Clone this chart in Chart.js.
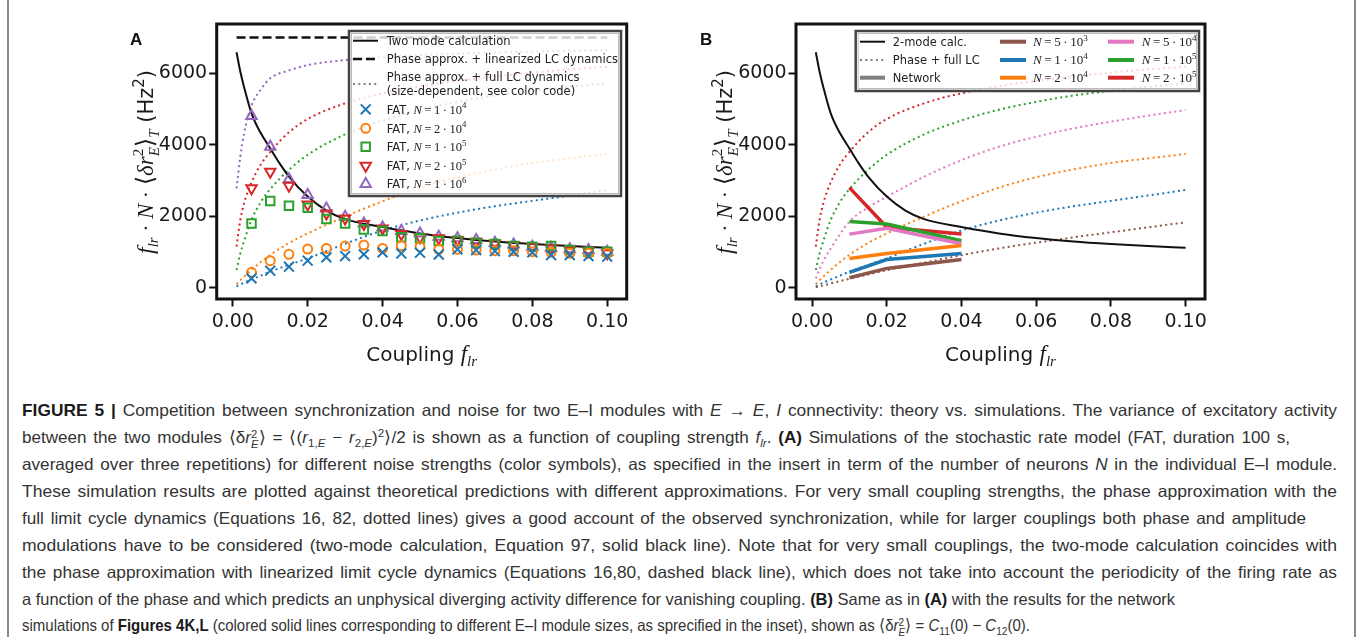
<!DOCTYPE html>
<html>
<head>
<meta charset="utf-8">
<script src="https://cdn.jsdelivr.net/npm/chart.js@4.4.1/dist/chart.umd.min.js"></script>
<style>
html, body { margin: 0; padding: 0; background: #fff; }
#page { position: relative; width: 1360px; height: 637px; overflow: hidden; background: #fff; }
#page canvas { position: absolute; left: 0; top: 0; }
.frame { position: absolute; top: 0; width: 2px; height: 637px; background: #8a8a8a; }
#caption { position: absolute; left: 0; top: 0; font-family: "Liberation Sans", Arial, sans-serif; font-size: 16.5px; color: #333; }
.ln { position: absolute; left: 22px; white-space: nowrap; line-height: 20px; transform-origin: 0 0; }
.ln b { color: #1a1a1a; }
.ss { display: inline-block; vertical-align: -0.45em; font-size: 66%; line-height: 0.95; }
sub, sup { font-size: 68%; line-height: 0; }
</style>
</head>
<body>
<div id="page">
  <canvas id="chartA" width="1360" height="380"></canvas>
  <canvas id="chartB" width="1360" height="380"></canvas>
  <div class="frame" style="left:7px"></div>
  <div class="frame" style="left:1354px"></div>
  <div id="caption">
    <div class="ln"><b>FIGURE 5 |</b> Competition between synchronization and noise for two E–I modules with <i>E</i> → <i>E</i>, <i>I</i> connectivity: theory vs. simulations. The variance of excitatory activity</div>
    <div class="ln">between the two modules ⟨δ<i>r</i><span class="ss">2<br><i>E</i></span>⟩ = ⟨(<i>r</i><sub>1,<i>E</i></sub> − <i>r</i><sub>2,<i>E</i></sub>)<sup>2</sup>⟩/2 is shown as a function of coupling strength <i>f</i><sub><i>lr</i></sub>. <b>(A)</b> Simulations of the stochastic rate model (FAT, duration 100 s,</div>
    <div class="ln">averaged over three repetitions) for different noise strengths (color symbols), as specified in the insert in term of the number of neurons <i>N</i> in the individual E–I module.</div>
    <div class="ln">These simulation results are plotted against theoretical predictions with different approximations. For very small coupling strengths, the phase approximation with the</div>
    <div class="ln">full limit cycle dynamics (Equations 16, 82, dotted lines) gives a good account of the observed synchronization, while for larger couplings both phase and amplitude</div>
    <div class="ln">modulations have to be considered (two-mode calculation, Equation 97, solid black line). Note that for very small couplings, the two-mode calculation coincides with</div>
    <div class="ln">the phase approximation with linearized limit cycle dynamics (Equations 16,80, dashed black line), which does not take into account the periodicity of the firing rate as</div>
    <div class="ln">a function of the phase and which predicts an unphysical diverging activity difference for vanishing coupling. <b>(B)</b> Same as in <b>(A)</b> with the results for the network</div>
    <div class="ln">simulations of <b>Figures 4K,L</b> (colored solid lines corresponding to different E–I module sizes, as sprecified in the inset), shown as ⟨δ<i>r</i><span class="ss">2<br><i>E</i></span>⟩ = <i>C</i><sub>11</sub>(0) − <i>C</i><sub>12</sub>(0).</div>
  </div>
</div>
<script>
// ticks
const xTicks = [0, 0.02, 0.04, 0.06, 0.08, 0.10];
const yTicks = [0, 2000, 4000, 6000];

// two mode calculation (solid black)
const twoModeX = [0.001, 0.002, 0.003, 0.005, 0.0075, 0.01, 0.0125, 0.015, 0.02, 0.025, 0.03, 0.04, 0.05, 0.06, 0.07, 0.08, 0.09, 0.1];
const twoModeY = [6590, 6050, 5620, 4880, 4320, 3900, 3480, 3110, 2550, 2160, 1920, 1700, 1520, 1390, 1290, 1220, 1165, 1120];

// phase approx. + linearized LC dynamics (dashed black)
const linX = [0.001, 0.1];
const linY = [7000, 7000];

// phase approx. + full LC dynamics (dotted, per size)
const theoryX = [0.001, 0.002, 0.003, 0.005, 0.0075, 0.01, 0.015, 0.02, 0.03, 0.04, 0.05, 0.06, 0.07, 0.08, 0.09, 0.1];
const theoryN5e3 = [15, 35, 60, 120, 185, 250, 370, 490, 700, 910, 1100, 1260, 1410, 1550, 1690, 1830];
const theoryN1e4 = [40, 90, 140, 230, 340, 450, 640, 820, 1230, 1600, 1880, 2100, 2280, 2430, 2580, 2735];
const theoryN2e4 = [100, 210, 310, 500, 720, 920, 1250, 1520, 1990, 2420, 2800, 3090, 3310, 3490, 3620, 3740];
const theoryN5e4 = [260, 520, 740, 1100, 1500, 1850, 2250, 2545, 3105, 3570, 3945, 4225, 4460, 4645, 4815, 4970];
const theoryN1e5 = [495, 950, 1300, 1900, 2400, 2760, 3300, 3720, 4290, 4680, 4980, 5200, 5380, 5510, 5620, 5720];
const theoryN2e5 = [1150, 1890, 2360, 2950, 3450, 3800, 4350, 4720, 5160, 5440, 5640, 5790, 5910, 6020, 6110, 6185];
const theoryN1e6 = [2780, 3660, 4320, 5100, 5550, 5860, 6080, 6230, 6370, 6450, 6510, 6550, 6580, 6610, 6630, 6650];

// FAT simulations (panel A markers)
const fatX = [0.005, 0.01, 0.015, 0.02, 0.025, 0.03, 0.035, 0.04, 0.045, 0.05, 0.055, 0.06, 0.065, 0.07, 0.075, 0.08, 0.085, 0.09, 0.095, 0.1];
const fatN1e4 = [261, 476, 588, 756, 849, 886, 933, 989, 960, 980, 930, 1073, 1054, 1026, 1007, 989, 914, 914, 886, 868];
const fatN2e4 = [430, 756, 933, 1082, 1100, 1166, 1194, 1100, 1175, 1147, 1073, 1073, 1054, 1035, 1035, 1007, 989, 961, 961, 961];
const fatN1e5 = [1800, 2425, 2295, 2239, 1922, 1800, 1632, 1586, 1409, 1381, 1306, 1315, 1259, 1222, 1166, 1147, 1166, 1054, 1007, 1007];
const fatN2e5 = [2780, 3246, 2854, 2332, 2080, 1940, 1782, 1660, 1502, 1409, 1381, 1334, 1287, 1240, 1194, 1147, 1100, 1054, 1035, 961];
const fatN1e6 = [4804, 3946, 3032, 2593, 2220, 1987, 1800, 1688, 1586, 1520, 1427, 1381, 1334, 1259, 1212, 1147, 1119, 1073, 1054, 1007];

// network simulations (panel B solid lines)
const netX = [0.01, 0.02, 0.04];
const netN5e3 = [280, 540, 790];
const netN1e4 = [430, 790, 960];
const netN2e4 = [820, 960, 1180];
const netN5e4 = [1500, 1660, 1230];
const netN1e5 = [1850, 1780, 1316];
const netN2e5 = [2800, 1690, 1500];

const C = {
    blue: '#1f77b4', orange: '#ff7f0e', green: '#2ca02c', red: '#d62728',
    purple: '#9467bd', brown: '#8c564b', pink: '#e377c2', gray: '#7f7f7f', black: '#111111'
};
const SANS = '"DejaVu Sans", sans-serif';
const SERIF = '"Liberation Serif", "DejaVu Serif", serif';
const DOT = [2, 3.3];
const DASH = [9, 4];

function pts(xs, ys) {
    return xs.map((x, i) => ({ x: x, y: ys[i] }));
}

function curve(xs, ys, color, extra) {
    return Object.assign({
        data: pts(xs, ys),
        borderColor: color,
        backgroundColor: color,
        borderWidth: 2,
        pointRadius: 0,
        fill: false,
        cubicInterpolationMode: 'monotone'
    }, extra);
}

function netLine(ys, color) {
    return curve(netX, ys, color, { order: 0, borderWidth: 3.5, cubicInterpolationMode: 'default', tension: 0 });
}

function markers(xs, ys, color, style, radius, rotation) {
    return {
        data: pts(xs, ys),
        showLine: false,
        pointStyle: style,
        pointRadius: radius,
        pointRotation: rotation || 0,
        pointBorderWidth: 2,
        pointBorderColor: color,
        pointBackgroundColor: 'rgba(0,0,0,0)',
        order: 0
    };
}

// rich text: segments {t, f, dy} or {stack:[...]}
function segWidth(ctx, s) {
    if (s.stack) return Math.max.apply(null, s.stack.map(p => segWidth(ctx, p)));
    ctx.font = s.f;
    return ctx.measureText(s.t).width;
}
function drawRich(ctx, segs, x, y, align) {
    const total = segs.reduce((a, s) => a + segWidth(ctx, s), 0);
    let cx = align === 'center' ? x - total / 2 : x;
    ctx.textAlign = 'left';
    ctx.textBaseline = 'alphabetic';
    segs.forEach(s => {
        (s.stack || [s]).forEach(p => {
            ctx.font = p.f;
            ctx.fillText(p.t, cx, y + (p.dy || 0));
        });
        cx += segWidth(ctx, s);
    });
}

function nLabel(mant, exp, size) {
    const th = '\u2009';
    return [
        { t: 'N', f: 'italic ' + size + 'px ' + SERIF },
        { t: th + '=' + th + mant + th + '·' + th + '10', f: size + 'px ' + SERIF },
        { t: exp, f: (size * 0.7) + 'px ' + SERIF, dy: -size * 0.42 }
    ];
}

function drawMarker(ctx, style, x, y, r, rot, color) {
    ctx.save();
    ctx.strokeStyle = color;
    ctx.lineWidth = 2;
    ctx.translate(x, y);
    ctx.rotate(rot * Math.PI / 180);
    ctx.beginPath();
    if (style === 'circle') {
        ctx.arc(0, 0, r, 0, Math.PI * 2);
    } else if (style === 'rect') {
        const s = r * Math.SQRT1_2;
        ctx.rect(-s, -s, 2 * s, 2 * s);
    } else if (style === 'triangle') {
        for (let k = 0; k < 3; k++) {
            const a = k * 2 * Math.PI / 3;
            ctx[k ? 'lineTo' : 'moveTo'](Math.sin(a) * r, -Math.cos(a) * r);
        }
        ctx.closePath();
    } else if (style === 'crossRot') {
        const s = r * Math.SQRT1_2;
        ctx.moveTo(-s, -s); ctx.lineTo(s, s);
        ctx.moveTo(-s, s); ctx.lineTo(s, -s);
    }
    ctx.stroke();
    ctx.restore();
}

function handle(ctx, x1, x2, y, color, width, dash) {
    ctx.save();
    ctx.strokeStyle = color;
    ctx.lineWidth = width;
    ctx.setLineDash(dash || []);
    ctx.beginPath();
    ctx.moveTo(x1, y);
    ctx.lineTo(x2, y);
    ctx.stroke();
    ctx.restore();
}

function legendFrame(ctx, x, y, w, h) {
    ctx.save();
    ctx.fillStyle = 'rgba(255,255,255,0.8)';
    ctx.fillRect(x, y, w, h);
    ctx.strokeStyle = '#444';
    ctx.lineWidth = 2.5;
    ctx.strokeRect(x, y, w, h);
    ctx.strokeStyle = '#bbb';
    ctx.lineWidth = 1;
    ctx.strokeRect(x + 2.5, y + 2.5, w - 5, h - 5);
    ctx.restore();
}

function yTitle(ctx, cx, cy) {
    const m = 22, s = 15;
    const segs = [
        { t: 'f', f: 'italic ' + (m + 2) + 'px ' + SERIF },
        { t: 'lr', f: 'italic ' + s + 'px ' + SERIF, dy: 5 },
        { t: ' · ', f: m + 'px ' + SERIF },
        { t: 'N', f: 'italic ' + (m + 1) + 'px ' + SERIF },
        { t: ' · ', f: m + 'px ' + SERIF },
        { t: '⟨', f: (m + 2) + 'px ' + SERIF },
        { t: 'δr', f: 'italic ' + (m + 1) + 'px ' + SERIF },
        { stack: [
            { t: '2', f: s + 'px ' + SERIF, dy: -10 },
            { t: 'E', f: 'italic ' + s + 'px ' + SERIF, dy: 6 }
        ] },
        { t: '⟩', f: (m + 2) + 'px ' + SERIF },
        { t: 'T', f: 'italic ' + s + 'px ' + SERIF, dy: 6 },
        { t: ' (Hz', f: (m - 1) + 'px ' + SANS },
        { t: '2', f: s + 'px ' + SANS, dy: -9 },
        { t: ')', f: (m - 1) + 'px ' + SANS }
    ];
    ctx.save();
    ctx.fillStyle = '#1a1a1a';
    ctx.translate(cx, cy);
    ctx.rotate(-Math.PI / 2);
    drawRich(ctx, segs, 0, 0, 'center');
    ctx.restore();
}

function xTitle(ctx, cx, y) {
    ctx.save();
    ctx.fillStyle = '#1a1a1a';
    drawRich(ctx, [
        { t: 'Coupling ', f: '20px ' + SANS },
        { t: 'f', f: 'italic 23px ' + SERIF },
        { t: 'lr', f: 'italic 15px ' + SERIF, dy: 5 }
    ], cx, y, 'center');
    ctx.restore();
}

function panelLetter(ctx, t, x, y) {
    ctx.save();
    ctx.fillStyle = '#111';
    ctx.font = 'bold 17px "Liberation Sans", Arial, sans-serif';
    ctx.textAlign = 'left';
    ctx.textBaseline = 'alphabetic';
    ctx.fillText(t, x, y);
    ctx.restore();
}

function legendA(ctx) {
    const tf = '11.5px ' + SANS;
    legendFrame(ctx, 349, 31, 272, 165);
    ctx.save();
    ctx.fillStyle = '#222';
    handle(ctx, 353, 378, 40.7, C.black, 2);
    handle(ctx, 353, 378, 59, C.black, 2.5, [9, 4]);
    handle(ctx, 353, 378, 84, C.gray, 2, DOT);
    drawRich(ctx, [{ t: 'Two mode calculation', f: tf }], 386.7, 45, 'left');
    drawRich(ctx, [{ t: 'Phase approx. + linearized LC dynamics', f: tf }], 386.7, 63.3, 'left');
    drawRich(ctx, [{ t: 'Phase approx. + full LC dynamics', f: tf }], 386.7, 81, 'left');
    drawRich(ctx, [{ t: '(size-dependent, see color code)', f: tf }], 386.7, 95, 'left');
    const rows = [
        ['crossRot', 7, 0, C.blue, '1', '4', 109.3],
        ['circle', 4.5, 0, C.orange, '2', '4', 128.3],
        ['rect', 6, 0, C.green, '1', '5', 146.7],
        ['triangle', 6, 180, C.red, '2', '5', 165.7],
        ['triangle', 6, 0, C.purple, '1', '6', 184]
    ];
    rows.forEach(r => {
        drawMarker(ctx, r[0], 365.7, r[6], r[1], r[2], r[3]);
        drawRich(ctx, [{ t: 'FAT, ', f: tf }].concat(nLabel(r[4], r[5], 12.5)), 386.7, r[6] + 4.3, 'left');
    });
    ctx.restore();
}

function legendB(ctx) {
    const tf = '11.5px ' + SANS;
    legendFrame(ctx, 855.7, 31, 343.3, 60);
    ctx.save();
    ctx.fillStyle = '#222';
    const ry = [41.7, 60, 77.7];
    handle(ctx, 860, 885, ry[0], C.black, 2);
    handle(ctx, 860, 885, ry[1], C.gray, 2, DOT);
    handle(ctx, 860, 885, ry[2], C.gray, 4);
    drawRich(ctx, [{ t: '2-mode calc.', f: tf }], 892.7, ry[0] + 4.3, 'left');
    drawRich(ctx, [{ t: 'Phase + full LC', f: tf }], 892.7, ry[1] + 4.3, 'left');
    drawRich(ctx, [{ t: 'Network', f: tf }], 892.7, ry[2] + 4.3, 'left');
    const col2 = [[C.brown, '5', '3'], [C.blue, '1', '4'], [C.orange, '2', '4']];
    const col3 = [[C.pink, '5', '4'], [C.green, '1', '5'], [C.red, '2', '5']];
    col2.forEach((c, i) => {
        handle(ctx, 1000, 1026, ry[i], c[0], 4);
        drawRich(ctx, nLabel(c[1], c[2], 13), 1033, ry[i] + 4.3, 'left');
    });
    col3.forEach((c, i) => {
        handle(ctx, 1108, 1134, ry[i], c[0], 4);
        drawRich(ctx, nLabel(c[1], c[2], 13), 1141.7, ry[i] + 4.3, 'left');
    });
    ctx.restore();
}

function spines(chart) {
    const a = chart.chartArea, ctx = chart.ctx;
    ctx.save();
    ctx.strokeStyle = '#111';
    ctx.lineWidth = 3;
    ctx.strokeRect(a.left, a.top, a.right - a.left, a.bottom - a.top);
    ctx.restore();
}

function makeScales(yWidth) {
    const tickFont = { family: '"DejaVu Sans"', size: 19 };
    return {
        x: {
            type: 'linear', min: -0.0043, max: 0.1052,
            afterBuildTicks: s => { s.ticks = xTicks.map(v => ({ value: v })); },
            afterFit: s => { s.height = 81; },
            ticks: { font: tickFont, color: '#1a1a1a', padding: 4, maxRotation: 0, autoSkip: false,
                     callback: v => v.toFixed(2) },
            grid: { drawOnChartArea: false, drawTicks: true, tickLength: 7.5, tickWidth: 2, tickColor: '#111' },
            border: { display: false }
        },
        y: {
            type: 'linear', min: -316, max: 7380,
            afterBuildTicks: s => { s.ticks = yTicks.map(v => ({ value: v })); },
            afterFit: s => { s.width = yWidth; },
            ticks: { font: tickFont, color: '#1a1a1a', padding: 2, callback: v => String(v) },
            grid: { drawOnChartArea: false, drawTicks: true, tickLength: 7.5, tickWidth: 2, tickColor: '#111' },
            border: { display: false }
        }
    };
}

function baseOptions(yWidth, rightPad) {
    return {
        responsive: false,
        animation: false,
        devicePixelRatio: 1,
        layout: { padding: { left: 0, right: rightPad, top: 24, bottom: 0 } },
        plugins: { legend: { display: false }, tooltip: { enabled: false } },
        scales: makeScales(yWidth)
    };
}

new Chart(document.getElementById('chartA'), {
    type: 'line',
    data: {
        datasets: [
            markers(fatX, fatN1e4, C.blue, 'crossRot', 7),
            markers(fatX, fatN2e4, C.orange, 'circle', 4.5),
            markers(fatX, fatN1e5, C.green, 'rect', 6),
            markers(fatX, fatN2e5, C.red, 'triangle', 6, 180),
            markers(fatX, fatN1e6, C.purple, 'triangle', 6),
            curve(twoModeX, twoModeY, C.black, { order: 1 }),
            curve(linX, linY, C.black, { order: 2, borderWidth: 2.5, borderDash: DASH, cubicInterpolationMode: 'default', tension: 0 }),
            curve(theoryX, theoryN1e4, C.blue, { order: 3, borderDash: DOT }),
            curve(theoryX, theoryN2e4, C.orange, { order: 3, borderDash: DOT }),
            curve(theoryX, theoryN1e5, C.green, { order: 3, borderDash: DOT }),
            curve(theoryX, theoryN2e5, C.red, { order: 3, borderDash: DOT }),
            curve(theoryX, theoryN1e6, C.purple, { order: 3, borderDash: DOT })
        ]
    },
    options: baseOptions(216.7, 1360 - 626.7),
    plugins: [{
        id: 'panelA',
        afterDatasetsDraw(chart) {
            const ctx = chart.ctx;
            spines(chart);
            legendA(ctx);
            yTitle(ctx, 153, 162);
            xTitle(ctx, 421.7, 361);
            panelLetter(ctx, 'A', 130, 45);
        }
    }]
});

new Chart(document.getElementById('chartB'), {
    type: 'line',
    data: {
        datasets: [
            netLine(netN5e3, C.brown),
            netLine(netN1e4, C.blue),
            netLine(netN2e4, C.orange),
            netLine(netN5e4, C.pink),
            netLine(netN1e5, C.green),
            netLine(netN2e5, C.red),
            curve(twoModeX, twoModeY, C.black, { order: 1 }),
            curve(theoryX, theoryN5e3, C.brown, { order: 3, borderDash: DOT }),
            curve(theoryX, theoryN1e4, C.blue, { order: 3, borderDash: DOT }),
            curve(theoryX, theoryN2e4, C.orange, { order: 3, borderDash: DOT }),
            curve(theoryX, theoryN5e4, C.pink, { order: 3, borderDash: DOT }),
            curve(theoryX, theoryN1e5, C.green, { order: 3, borderDash: DOT }),
            curve(theoryX, theoryN2e5, C.red, { order: 3, borderDash: DOT })
        ]
    },
    options: baseOptions(796, 1360 - 1205),
    plugins: [{
        id: 'panelB',
        afterDatasetsDraw(chart) {
            const ctx = chart.ctx;
            spines(chart);
            legendB(ctx);
            yTitle(ctx, 732.3, 162);
            xTitle(ctx, 1000.5, 361);
            panelLetter(ctx, 'B', 700, 45);
        }
    }]
});

// caption: every line squeezed to the width it has in the figure;
// justified lines also get a little extra word gap first
const capLeft = 22;
const capEnds = [1337, 1290, 1337, 1337, 1306, 1337, 1337, 1175, 1030];
const capMid = [410, 437, 464, 491, 518, 545, 572, 599, 625];
const lines = Array.from(document.querySelectorAll('#caption .ln'));
lines.forEach((el, i) => {
    el.style.top = (capMid[i] - 10) + 'px';
    if (i < 7) el.style.wordSpacing = '2px';
    const w = el.getBoundingClientRect().width;
    el.style.transform = 'scaleX(' + ((capEnds[i] - capLeft) / w) + ')';
});
</script>
</body>
</html>
